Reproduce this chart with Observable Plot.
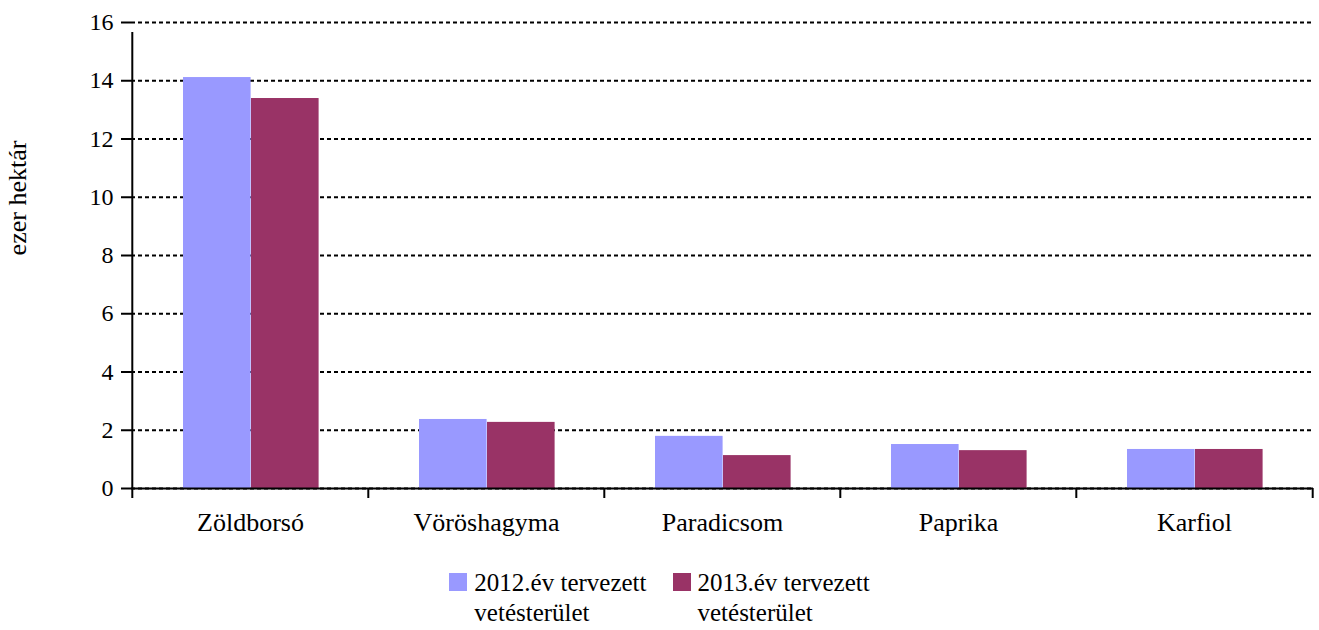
<!DOCTYPE html>
<html><head><meta charset="utf-8">
<script src="https://cdn.jsdelivr.net/npm/d3@7"></script>
<script src="https://cdn.jsdelivr.net/npm/@observablehq/plot@0.6"></script>
<style>
body{margin:0;background:#fff;font-family:"Times New Roman","Liberation Serif",Tinos,"DejaVu Serif",serif;color:#000;}
#chart{position:relative;width:1319px;}
.legend{display:flex;justify-content:center;gap:26px;margin-top:18px;font-size:25px;line-height:30px;}
.item{display:flex;align-items:flex-start;}
.sw{width:18px;height:18px;margin-top:5px;margin-right:7px;flex:none;}
</style></head><body><div id="chart"></div><script>
const categories = ["Zöldborsó", "Vöröshagyma", "Paradicsom", "Paprika", "Karfiol"];
const seriesLabels = ["2012.év tervezett vetésterület", "2013.év tervezett vetésterület"];
const values2012 = [14.11, 2.37, 1.79, 1.51, 1.34];
const values2013 = [13.39, 2.27, 1.13, 1.30, 1.34];
const yTicks = [0, 2, 4, 6, 8, 10, 12, 14, 16];
const yLabel = "ezer hektár";
const colors = ["#9999FF", "#993366"];
const FONT = '"Times New Roman","Liberation Serif",Tinos,"DejaVu Serif",serif';

const W = 1319, H = 550, ML = 131, MR = 6, MT = 22, MB = 62;
const step = (W - ML - MR) / categories.length;
const barW = step * 68 / 236.4;
const gapL = step * 51 / 236.4;
const gapR = step - gapL - 2 * barW;

const d2012 = categories.map((c, i) => ({cat: c, v: values2012[i]}));
const d2013 = categories.map((c, i) => ({cat: c, v: values2013[i]}));

const plot = Plot.plot({
  width: W, height: H,
  marginLeft: ML, marginRight: MR, marginTop: MT, marginBottom: MB,
  style: {fontFamily: FONT, color: "#000", background: "#fff", overflow: "visible"},
  x: {domain: categories, padding: 0, label: null},
  y: {domain: [0, 16], label: null},
  marks: [
    Plot.ruleY(yTicks, {stroke: "#000", strokeWidth: 2, strokeDasharray: "4,3"}),
    Plot.barY(d2012, {x: "cat", y: "v", fill: colors[0], insetLeft: gapL, insetRight: step - gapL - barW}),
    Plot.barY(d2013, {x: "cat", y: "v", fill: colors[1], insetLeft: gapL + barW, insetRight: gapR}),
    Plot.ruleY([0], {stroke: "#000", strokeWidth: 2}),
    Plot.ruleX([categories[0]], {x: d => d, y1: 0, y2: 16, insetBottom: -10, dx: -step / 2, stroke: "#000", strokeWidth: 2}),
    Plot.axisY({ticks: yTicks, tickSize: 10, tickPadding: 8, strokeWidth: 2, fontSize: 24, label: null}),
    Plot.axisX({tickSize: 0, tickPadding: 24, fontSize: 26, label: null}),
    Plot.axisX({tickSize: 10, text: null, dx: -step / 2, strokeWidth: 2, label: null}),
    Plot.axisX({ticks: [categories[categories.length - 1]], tickSize: 10, text: null, dx: step / 2, strokeWidth: 2, label: null})
  ]
});

d3.select(plot).append("text")
  .attr("transform", `translate(26,${198}) rotate(-90)`)
  .attr("text-anchor", "middle")
  .attr("font-family", FONT)
  .attr("font-size", 26)
  .attr("fill", "#000")
  .text(yLabel);

const root = document.getElementById("chart");
root.appendChild(plot);
const legend = d3.select(root).append("div").attr("class", "legend");
seriesLabels.forEach((s, i) => {
  const it = legend.append("div").attr("class", "item");
  it.append("div").attr("class", "sw").style("background", colors[i]);
  const parts = s.split(" ");
  it.append("div").html(parts.slice(0, 2).join(" ") + "<br>" + parts.slice(2).join(" "));
});
</script></body></html>
